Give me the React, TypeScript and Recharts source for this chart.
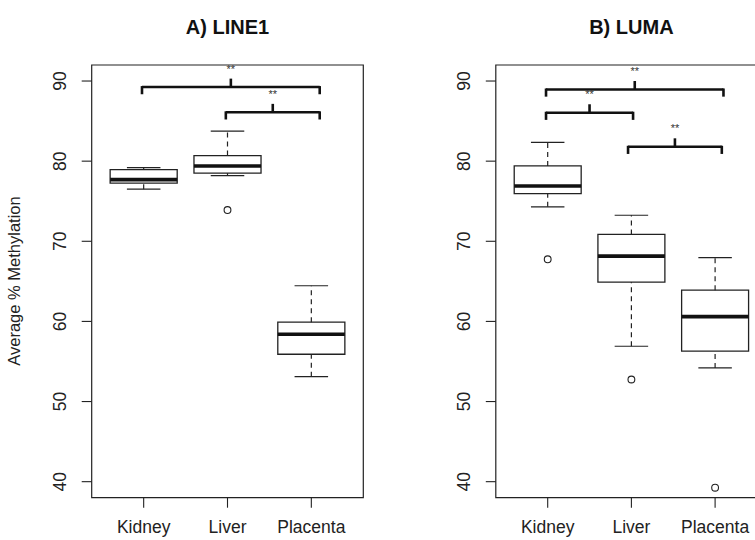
import React from 'react';
import {
  ComposedChart,
  XAxis,
  YAxis,
  Scatter,
  ReferenceArea,
  ReferenceLine,
} from 'recharts';

// ---- categories & ticks ----
const categories = ['Kidney', 'Liver', 'Placenta'];
const yTicks = [40, 50, 60, 70, 80, 90];
const xTicks = [1, 2, 3];

// ---- A) LINE1 box statistics ----
const line1Min = [76.5, 78.2, 53.1];
const line1Q1 = [77.25, 78.5, 55.9];
const line1Median = [77.7, 79.4, 58.4];
const line1Q3 = [78.95, 80.7, 59.9];
const line1Max = [79.2, 83.75, 64.45];
const line1Outliers = [[], [73.9], []];
// significance brackets (x from, x to, level)
const line1BracketFrom = [0.98, 1.98];
const line1BracketTo = [3.1, 3.1];
const line1BracketY = [89.25, 86.1];

// ---- B) LUMA box statistics ----
const lumaMin = [74.3, 56.9, 54.2];
const lumaQ1 = [75.95, 64.9, 56.3];
const lumaMedian = [76.9, 68.15, 60.6];
const lumaQ3 = [79.4, 70.85, 63.9];
const lumaMax = [82.35, 73.25, 67.95];
const lumaOutliers = [[67.75], [52.75], [39.25]];
const lumaBracketFrom = [0.98, 0.98, 1.96];
const lumaBracketTo = [3.1, 2.02, 3.08];
const lumaBracketY = [88.95, 86.05, 81.8];

const FONT = '"Liberation Sans", Arial, Helvetica, sans-serif';
const INK = '#222';
const X_DOMAIN: [number, number] = [0.38, 3.62];
const Y_DOMAIN: [number, number] = [38, 92];

const YTick = (props: any) => {
  const { x, y, payload } = props;
  const cx = x - 22;
  return (
    <text
      x={cx}
      y={y}
      transform={`rotate(-90, ${cx}, ${y})`}
      textAnchor="middle"
      dominantBaseline="central"
      fontSize={17.5}
      fontFamily={FONT}
      fill={INK}
    >
      {payload.value}
    </text>
  );
};

const XTick = (props: any) => {
  const { x, y, payload } = props;
  return (
    <text x={x} y={y + 25.5} textAnchor="middle" fontSize={17.5} fontFamily={FONT} fill={INK}>
      {categories[payload.value - 1]}
    </text>
  );
};

const OutlierShape = (props: any) => {
  const { cx, cy } = props;
  return <circle cx={cx} cy={cy} r={3.4} fill="none" stroke={INK} strokeWidth={1.1} />;
};

const StarShape = (props: any) => {
  const { cx, cy } = props;
  return (
    <text x={cx} y={cy} textAnchor="middle" dominantBaseline="central" fontSize={11} fontFamily={FONT} fill="#333" stroke="none">
      **
    </text>
  );
};

type PanelProps = {
  mins: number[];
  q1s: number[];
  medians: number[];
  q3s: number[];
  maxs: number[];
  outliers: number[][];
  bFrom: number[];
  bTo: number[];
  bY: number[];
  marginLeft: number;
  marginRight: number;
  width: number;
};

const BOX_HALF = 0.4;
const CAP_HALF = 0.2;
const LEG = 0.9;
const NUB = 1.05;
const STAR_OFFSET = 2.3;

function Panel(p: PanelProps) {
  const outlierData: { x: number; y: number }[] = [];
  p.outliers.forEach((arr, i) => arr.forEach((v) => outlierData.push({ x: i + 1, y: v })));
  const starData = p.bFrom.map((f, i) => ({ x: (f + p.bTo[i]) / 2, y: p.bY[i] + STAR_OFFSET }));

  const elems: React.ReactNode[] = [];
  categories.forEach((_, i) => {
    const c = i + 1;
    elems.push(
      <ReferenceLine key={`wu${i}`} segment={[{ x: c, y: p.q3s[i] }, { x: c, y: p.maxs[i] }]} stroke={INK} strokeWidth={1.2} strokeDasharray="5 4" />,
      <ReferenceLine key={`wl${i}`} segment={[{ x: c, y: p.mins[i] }, { x: c, y: p.q1s[i] }]} stroke={INK} strokeWidth={1.2} strokeDasharray="5 4" />,
      <ReferenceLine key={`cu${i}`} segment={[{ x: c - CAP_HALF, y: p.maxs[i] }, { x: c + CAP_HALF, y: p.maxs[i] }]} stroke={INK} strokeWidth={1.2} />,
      <ReferenceLine key={`cl${i}`} segment={[{ x: c - CAP_HALF, y: p.mins[i] }, { x: c + CAP_HALF, y: p.mins[i] }]} stroke={INK} strokeWidth={1.2} />,
      <ReferenceArea key={`b${i}`} x1={c - BOX_HALF} x2={c + BOX_HALF} y1={p.q1s[i]} y2={p.q3s[i]} fill="none" fillOpacity={0} stroke={INK} strokeWidth={1.3} />,
      <ReferenceLine key={`m${i}`} segment={[{ x: c - BOX_HALF, y: p.medians[i] }, { x: c + BOX_HALF, y: p.medians[i] }]} stroke="#111" strokeWidth={3.6} />
    );
  });
  p.bFrom.forEach((f, i) => {
    const t = p.bTo[i];
    const y = p.bY[i];
    const mid = (f + t) / 2;
    elems.push(
      <ReferenceLine key={`bh${i}`} segment={[{ x: f, y }, { x: t, y }]} stroke="#111" strokeWidth={2.6} />,
      <ReferenceLine key={`bl${i}`} segment={[{ x: f, y: y + 0.12 }, { x: f, y: y - LEG }]} stroke="#111" strokeWidth={2.6} />,
      <ReferenceLine key={`br${i}`} segment={[{ x: t, y: y + 0.12 }, { x: t, y: y - LEG }]} stroke="#111" strokeWidth={2.6} />,
      <ReferenceLine key={`bn${i}`} segment={[{ x: mid, y }, { x: mid, y: y + NUB }]} stroke="#111" strokeWidth={2.6} />
    );
  });

  return (
    <ComposedChart
      width={p.width}
      height={540}
      margin={{ top: 65, right: p.marginRight, bottom: 12.3, left: p.marginLeft }}
    >
      <XAxis
        type="number"
        dataKey="x"
        domain={X_DOMAIN}
        ticks={xTicks}
        allowDataOverflow
        axisLine={false}
        tickSize={10}
        tickMargin={0}
        tickLine={{ stroke: INK, strokeWidth: 1.1 }}
        tick={<XTick />}
        height={30}
        interval={0}
      />
      <YAxis
        type="number"
        dataKey="y"
        domain={Y_DOMAIN}
        ticks={yTicks}
        allowDataOverflow
        axisLine={false}
        tickSize={10}
        tickMargin={0}
        tickLine={{ stroke: INK, strokeWidth: 1.1 }}
        tick={<YTick />}
        width={60}
        interval={0}
      />
      <ReferenceArea
        x1={X_DOMAIN[0]}
        x2={X_DOMAIN[1]}
        y1={Y_DOMAIN[0]}
        y2={Y_DOMAIN[1]}
        fill="none"
        fillOpacity={0}
        stroke={INK}
        strokeWidth={1.2}
        ifOverflow="visible"
      />
      {elems}
      <Scatter data={outlierData} shape={<OutlierShape />} isAnimationActive={false} />
      <Scatter data={starData} shape={<StarShape />} isAnimationActive={false} />
    </ComposedChart>
  );
}

const titleStyle: React.CSSProperties = {
  position: 'absolute',
  width: 200,
  top: 15,
  textAlign: 'center',
  fontWeight: 'bold',
  fontSize: 20,
  lineHeight: '24px',
  color: '#111',
};

export default function App() {
  return (
    <div
      style={{
        position: 'absolute',
        left: 0,
        top: 0,
        width: 755,
        height: 540,
        overflow: 'hidden',
        background: '#fff',
        fontFamily: FONT,
      }}
    >
      <div style={{ position: 'absolute', left: 0, top: 0 }}>
        <Panel
          mins={line1Min}
          q1s={line1Q1}
          medians={line1Median}
          q3s={line1Q3}
          maxs={line1Max}
          outliers={line1Outliers}
          bFrom={line1BracketFrom}
          bTo={line1BracketTo}
          bY={line1BracketY}
          marginLeft={31.7}
          marginRight={16.7}
          width={380}
        />
      </div>
      <div style={{ position: 'absolute', left: 380, top: 0 }}>
        <Panel
          mins={lumaMin}
          q1s={lumaQ1}
          medians={lumaMedian}
          q3s={lumaQ3}
          maxs={lumaMax}
          outliers={lumaOutliers}
          bFrom={lumaBracketFrom}
          bTo={lumaBracketTo}
          bY={lumaBracketY}
          marginLeft={55.8}
          marginRight={13}
          width={400}
        />
      </div>
      <div style={{ ...titleStyle, left: 127.5 }}>A) LINE1</div>
      <div style={{ ...titleStyle, left: 531.4 }}>B) LUMA</div>
      <svg style={{ position: 'absolute', left: 0, top: 0 }} width={40} height={540}>
        <text
          x={20}
          y={281}
          transform="rotate(-90, 20, 281)"
          textAnchor="middle"
          fontSize={16.5}
          fontFamily={FONT}
          fill={INK}
        >
          Average % Methylation
        </text>
      </svg>
    </div>
  );
}
